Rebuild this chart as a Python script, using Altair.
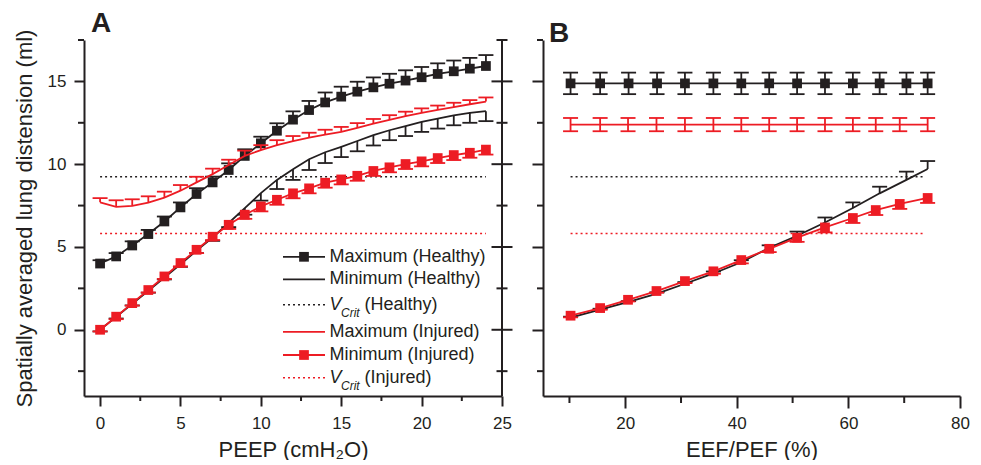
import altair as alt
import pandas as pd

BLACK = "#231f20"
RED = "#ed1c24"
FONT = "Liberation Sans"

# ---------------- Panel A data (PEEP sweep) ----------------
peep = list(range(25))
max_h = [4.0, 4.43, 5.09, 5.78, 6.54, 7.39, 8.2, 8.9, 9.65, 10.5, 11.26, 12.02, 12.69,
         13.27, 13.73, 14.08, 14.38, 14.64, 14.86, 15.05, 15.25, 15.45, 15.61, 15.77, 15.93]
max_h_err = [0.2, 0.2, 0.25, 0.25, 0.3, 0.3, 0.35, 0.35, 0.4, 0.4, 0.4, 0.45, 0.5,
             0.55, 0.6, 0.6, 0.6, 0.6, 0.6, 0.62, 0.62, 0.64, 0.65, 0.65, 0.66]
min_h = [0.0, 0.78, 1.57, 2.36, 3.16, 3.95, 4.78, 5.57, 6.45, 7.35, 8.25, 9.05, 9.7,
         10.3, 10.72, 11.05, 11.4, 11.75, 12.05, 12.3, 12.55, 12.75, 12.95, 13.1, 13.2]
min_h_err = [0.1, 0.1, 0.1, 0.12, 0.12, 0.15, 0.15, 0.2, 0.25, 0.4, 0.45, 0.55, 0.65,
             0.65, 0.65, 0.62, 0.62, 0.62, 0.6, 0.6, 0.6, 0.6, 0.6, 0.6, 0.6]
max_i = [7.7, 7.42, 7.48, 7.68, 7.98, 8.4, 8.9, 9.4, 9.95, 10.5, 10.85, 11.15, 11.4,
         11.6, 11.78, 11.95, 12.2, 12.45, 12.68, 12.9, 13.1, 13.28, 13.45, 13.62, 13.78]
max_i_err = [0.25, 0.4, 0.4, 0.38, 0.36, 0.34, 0.34, 0.33, 0.32, 0.32, 0.3, 0.3, 0.3,
             0.3, 0.3, 0.3, 0.28, 0.28, 0.28, 0.27, 0.27, 0.26, 0.26, 0.25, 0.25]
min_i = [0.0, 0.79, 1.61, 2.4, 3.22, 4.03, 4.83, 5.62, 6.34, 6.95, 7.45, 7.85, 8.24,
         8.54, 8.88, 9.08, 9.3, 9.59, 9.81, 10.01, 10.17, 10.37, 10.55, 10.69, 10.88]
min_i_err = [0.1, 0.15, 0.15, 0.15, 0.15, 0.2, 0.2, 0.2, 0.25, 0.25, 0.3, 0.3, 0.3,
             0.3, 0.3, 0.3, 0.3, 0.3, 0.3, 0.3, 0.3, 0.3, 0.3, 0.3, 0.3]
vcrit_peep = [0, 24]

# ---------------- Panel B data (EEF/PEF sweep) ----------------
eef_h = [10.2, 15.5, 20.6, 25.7, 30.7, 35.8, 40.8, 45.8, 50.8, 55.8, 60.8, 65.6, 70.4, 74.2]
eef_i = [10.2, 15.5, 20.5, 25.6, 30.7, 35.8, 40.8, 45.8, 50.8, 55.8, 60.8, 64.9, 69.2, 74.2]
maxb_h = [14.88, 14.88, 14.88, 14.88, 14.88, 14.88, 14.88, 14.88, 14.88, 14.88, 14.88, 14.88, 14.88, 14.88]
maxb_h_err = [0.65, 0.65, 0.65, 0.65, 0.65, 0.65, 0.65, 0.65, 0.65, 0.65, 0.65, 0.65, 0.65, 0.65]
maxb_i = [12.39, 12.39, 12.39, 12.39, 12.39, 12.39, 12.39, 12.39, 12.39, 12.39, 12.39, 12.39, 12.39, 12.39]
maxb_i_err = [0.4, 0.4, 0.4, 0.4, 0.4, 0.4, 0.4, 0.4, 0.4, 0.4, 0.4, 0.4, 0.4, 0.4]
minb_h = [0.74, 1.22, 1.68, 2.18, 2.78, 3.4, 4.08, 4.95, 5.68, 6.48, 7.35, 8.24, 9.05, 9.71]
minb_h_err = [0.05, 0.05, 0.05, 0.08, 0.1, 0.12, 0.12, 0.15, 0.25, 0.3, 0.34, 0.4, 0.5, 0.48]
minb_i = [0.85, 1.31, 1.81, 2.34, 2.94, 3.53, 4.21, 4.89, 5.56, 6.18, 6.75, 7.23, 7.6, 7.96]
minb_i_err = [0.1, 0.1, 0.1, 0.1, 0.12, 0.15, 0.2, 0.2, 0.25, 0.3, 0.3, 0.3, 0.3, 0.3]
vcrit_eef = [10.2, 73.7]

vcrit_healthy = 9.24
vcrit_injured = 5.82

# ---------------- axis / tick values ----------------
yA_major = [0, 5, 10, 15]
y_minor = [-2.5, 2.5, 7.5, 12.5, 17.5]
xA_major = [0, 5, 10, 15, 20, 25]
xA_minor = [2.5, 7.5, 12.5, 17.5, 22.5]
xB_major = [20, 40, 60, 80]
xB_minor = [10, 30, 50, 70]

legend_labels = ["Maximum (Healthy)", "Minimum (Healthy)", "(Healthy)",
                 "Maximum (Injured)", "Minimum (Injured)", "(Injured)"]
legend_colors = [BLACK, BLACK, BLACK, RED, RED, RED]
legend_dotted = [False, False, True, False, False, True]
legend_marker = [True, False, False, False, True, False]

# ---------------- layout ----------------
WA, WB, H = 418, 417, 356
LW = 1.8
CAP = 7.5
SQ = 95
DOT = [2, 3]

xsA = alt.Scale(domain=[-1, 25], nice=False, zero=False)
xsB = alt.Scale(domain=[5.26, 80], nice=False, zero=False)
ys = alt.Scale(domain=[-4, 17.5], nice=False, zero=False)

axXA = alt.Axis(values=xA_major, title="PEEP (cmH₂O)", tickSize=10, labelPadding=9,
                titlePadding=8, labelFlush=False, labelOverlap=False, grid=False)
axYA = alt.Axis(values=yA_major, title="Spatially averaged lung distension (ml)",
                tickSize=10, labelPadding=8, titlePadding=11, labelOverlap=False, grid=False)
axXB = alt.Axis(values=xB_major, title="EEF/PEF (%)", tickSize=12, labelPadding=7,
                titlePadding=8, labelFlush=False, labelOverlap=False, grid=False)
axYB = alt.Axis(values=yA_major, title=None, labels=False, tickSize=11, grid=False)


def X(field, panel):
    if panel == "A":
        return alt.X(field, type="quantitative", scale=xsA, axis=axXA)
    return alt.X(field, type="quantitative", scale=xsB, axis=axXB)


def Y(field, panel):
    return alt.Y(field, type="quantitative", scale=ys, axis=axYA if panel == "A" else axYB)


def series_layers(panel, xs, ys_, err, color, direction, line=True, squares=False):
    layers = []
    if direction == "up":
        lo = list(ys_)
        hi = [v + e for v, e in zip(ys_, err)]
        caps = hi
    elif direction == "down":
        lo = [v - e for v, e in zip(ys_, err)]
        hi = list(ys_)
        caps = lo
    else:
        lo = [v - e for v, e in zip(ys_, err)]
        hi = [v + e for v, e in zip(ys_, err)]
        caps = lo + hi
    eb = pd.DataFrame({"x": xs, "lo": lo, "hi": hi})
    layers.append(alt.Chart(eb).mark_rule(color=color, strokeWidth=LW).encode(
        x=X("x", panel), y=Y("lo", panel), y2=alt.Y2("hi")))
    cx = list(xs) if direction != "both" else list(xs) + list(xs)
    cap_df = pd.DataFrame({"x": cx, "c": caps})
    layers.append(alt.Chart(cap_df).mark_rule(color=color, strokeWidth=LW,
                                              xOffset=-CAP, x2Offset=CAP).encode(
        x=X("x", panel), x2=alt.X2("x"), y=Y("c", panel)))
    d = pd.DataFrame({"x": xs, "y": ys_})
    if line:
        layers.append(alt.Chart(d).mark_line(color=color, strokeWidth=LW).encode(
            x=X("x", panel), y=Y("y", panel)))
    if squares:
        layers.append(alt.Chart(d).mark_square(color=color, size=SQ, opacity=1).encode(
            x=X("x", panel), y=Y("y", panel)))
    return layers


def vcrit_layers(panel, xr):
    out = []
    for val, col in [(vcrit_healthy, BLACK), (vcrit_injured, RED)]:
        d = pd.DataFrame({"x": [xr[0]], "x2": [xr[1]], "y": [val]})
        out.append(alt.Chart(d).mark_rule(color=col, strokeWidth=1.5, strokeDash=DOT).encode(
            x=X("x", panel), x2=alt.X2("x2"), y=Y("y", panel)))
    return out


def minor_x(panel, vals, length):
    d = pd.DataFrame({"x": vals})
    return alt.Chart(d).mark_rule(color=BLACK, strokeWidth=2).encode(
        x=X("x", panel), y=alt.value(H), y2=alt.value(H + length))


def ticks_y(panel, vals, x0, x1):
    d = pd.DataFrame({"y": vals})
    return alt.Chart(d).mark_rule(color=BLACK, strokeWidth=2).encode(
        y=Y("y", panel), x=alt.value(x0), x2=alt.value(x1))


# ---------------- Panel A ----------------
layersA = []
layersA += vcrit_layers("A", vcrit_peep)
layersA.append(minor_x("A", xA_minor, 5))
layersA.append(ticks_y("A", y_minor, -6, 0))
# right-hand frame axis with crossing ticks
layersA.append(alt.Chart(pd.DataFrame({"a": [0]})).mark_rule(color=BLACK, strokeWidth=2).encode(
    x=alt.value(WA), y=alt.value(0), y2=alt.value(H)))
layersA.append(ticks_y("A", yA_major, WA - 10.5, WA + 10.5))
layersA.append(ticks_y("A", y_minor, WA - 5.5, WA + 5.5))

layersA += series_layers("A", peep, min_h, min_h_err, BLACK, "down")
layersA += series_layers("A", peep, max_h, max_h_err, BLACK, "up", squares=True)
layersA += series_layers("A", peep, max_i, max_i_err, RED, "up")
layersA += series_layers("A", peep, min_i, min_i_err, RED, "down", squares=True)

# legend (drawn manually to reproduce the italic V_Crit labels)
leg_y = [216.8, 239.3, 264.7, 291.8, 315.0, 337.7]
leg = pd.DataFrame({"label": legend_labels, "col": legend_colors, "dotted": legend_dotted,
                    "marker": legend_marker, "ly": leg_y})
leg_solid = leg[~leg["dotted"]]
leg_dot = leg[leg["dotted"]]
leg_mark = leg[leg["marker"]]
layersA.append(alt.Chart(leg_solid).mark_rule(strokeWidth=LW).encode(
    x=alt.value(199), x2=alt.value(241), y=alt.Y("ly:Q", scale=None),
    color=alt.Color("col:N", scale=None)))
layersA.append(alt.Chart(leg_dot).mark_rule(strokeWidth=1.5, strokeDash=DOT).encode(
    x=alt.value(199), x2=alt.value(241), y=alt.Y("ly:Q", scale=None),
    color=alt.Color("col:N", scale=None)))
layersA.append(alt.Chart(leg_mark).mark_square(size=SQ, opacity=1).encode(
    x=alt.value(220), y=alt.Y("ly:Q", scale=None), color=alt.Color("col:N", scale=None)))
layersA.append(alt.Chart(leg_solid).mark_text(align="left", baseline="middle", fontSize=18,
                                               color=BLACK).encode(
    x=alt.value(245.5), y=alt.Y("ly:Q", scale=None), text="label:N"))
layersA.append(alt.Chart(leg_dot).mark_text(align="left", baseline="middle", fontSize=18,
                                             fontStyle="italic", color=BLACK, text="V").encode(
    x=alt.value(245.5), y=alt.Y("ly:Q", scale=None)))
layersA.append(alt.Chart(leg_dot).mark_text(align="left", baseline="middle", fontSize=12,
                                             fontStyle="italic", color=BLACK, text="Crit",
                                             dy=8).encode(
    x=alt.value(257), y=alt.Y("ly:Q", scale=None)))
layersA.append(alt.Chart(leg_dot).mark_text(align="left", baseline="middle", fontSize=18,
                                             color=BLACK).encode(
    x=alt.value(280.5), y=alt.Y("ly:Q", scale=None), text="label:N"))

TITLE_OFFSET = -8.6

panelA = alt.layer(*layersA).properties(
    width=WA, height=H,
    title=alt.TitleParams("A", anchor="start", frame="group", dx=7, fontSize=28,
                          fontWeight="bold", font=FONT, color=BLACK, offset=TITLE_OFFSET))

# ---------------- Panel B ----------------
layersB = []
layersB += vcrit_layers("B", vcrit_eef)
layersB.append(minor_x("B", xB_minor, 7))
layersB.append(ticks_y("B", y_minor, -6, 0))
layersB += series_layers("B", eef_h, maxb_h, maxb_h_err, BLACK, "both", squares=True)
layersB += series_layers("B", eef_i, maxb_i, maxb_i_err, RED, "both")
layersB += series_layers("B", eef_h, minb_h, minb_h_err, BLACK, "up")
layersB += series_layers("B", eef_i, minb_i, minb_i_err, RED, "down", squares=True)

panelB = alt.layer(*layersB).properties(
    width=WB, height=H,
    title=alt.TitleParams("B", anchor="start", frame="group", dx=6, fontSize=28,
                          fontWeight="bold", font=FONT, color=BLACK, offset=TITLE_OFFSET))

chart = alt.hconcat(panelA, panelB, spacing=41, bounds="flush").properties(
    padding={"left": 5, "top": 1, "right": 0, "bottom": 0}
).configure(font=FONT).configure_view(stroke=None).configure_axis(
    domainColor=BLACK, domainWidth=2, tickColor=BLACK, tickWidth=2,
    labelFont=FONT, labelFontSize=17, labelColor=BLACK,
    titleFont=FONT, titleFontSize=22, titleFontWeight="normal", titleColor=BLACK,
    grid=False
)

chart.save("out.html", embed_options={"renderer": "svg", "actions": False})
